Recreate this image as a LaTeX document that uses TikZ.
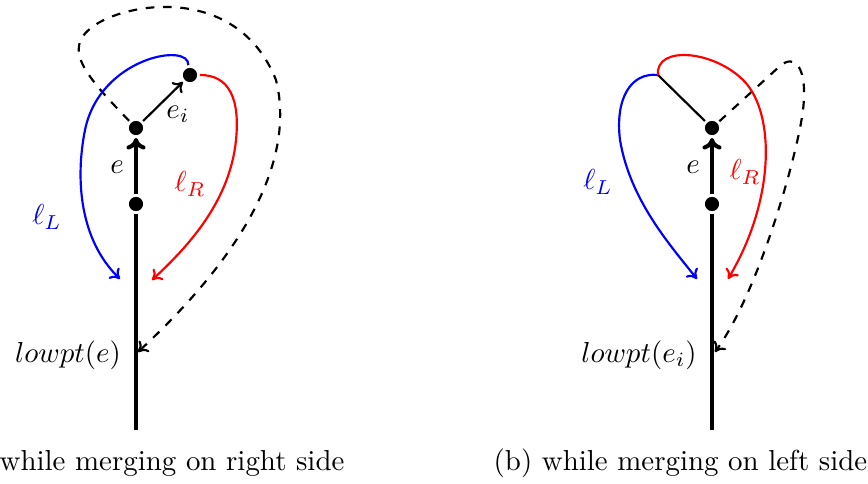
\documentclass[tikz,border=0pt]{standalone}
\usetikzlibrary{arrows.meta}
\begin{document}
\begin{tikzpicture}[x=0.346pt,y=-0.346pt,
  dot/.style={circle,fill=black,inner sep=0pt,minimum size=4.9pt,outer sep=1pt},
  trunk/.style={line width=1.4pt},
  curve/.style={line width=0.75pt},
  thinhead/.style={-{To[length=3.2pt,width=5.2pt]}},
  thickhead/.style={-{To[length=4pt,width=6.6pt]}},
  lbl/.style={inner sep=0pt}]
\useasboundingbox (0,0) rectangle (868,484);

% ---------- left figure ----------
\node[dot] (tL) at (190,75) {};
\node[dot] (mL) at (136,128) {};
\node[dot] (bL) at (136,204) {};
\coordinate (endL) at (136,430);
\coordinate (lowL) at (138,352);
\coordinate (blueL) at (120,279);
\coordinate (redL) at (152,280);

\draw[trunk] (bL) -- (endL);
\draw[trunk,thickhead] (bL) -- (mL);
\draw[curve,thinhead] (mL) -- (tL);
\draw[curve,dashed,thinhead] (mL) .. controls (80,70) and (60,45) .. (100,22)
   .. controls (140,0) and (240,-10) .. (276,80)
   .. controls (291,140) and (270,230) .. (lowL);
\draw[curve,blue,thinhead] (tL.100) .. controls (190,42) and (100,57) .. (85,130)
   .. controls (75,180) and (80,240) .. (blueL);
\draw[curve,red,thinhead] (tL.east) .. controls (230,75) and (240,100) .. (236,140)
   .. controls (230,200) and (190,245) .. (redL);

\node[lbl] (eL) at (117,167) {$e$};
\node[lbl] (eiL) at (178,114) {$e_i$};
\node[lbl,text=blue] (lLL) at (47,217) {$\ell_L$};
\node[lbl,text=red] (lRL) at (190,184) {$\ell_R$};
\node[lbl] (lowptL) at (68,355) {$lowpt(e)$};
\node[lbl,anchor=east] (capL) at (345,463) {(a) while merging on right side};

% ---------- right figure ----------
\node[dot] (mR) at (712,128) {};
\node[dot] (bR) at (712,204) {};
\coordinate (J) at (658,75);
\coordinate (endR) at (712,430);
\coordinate (lowR) at (715,352);
\coordinate (blueR) at (697,279);
\coordinate (redR) at (728,279);

\draw[trunk] (bR) -- (endR);
\draw[trunk,thickhead] (bR) -- (mR);
\draw[curve] (mR) -- (J);
\draw[curve,dashed,thinhead] (mR) -- (780,66) .. controls (795,53) and (808,68) .. (803,110)
   .. controls (798,152) and (760,290) .. (lowR);
\draw[curve,blue,thinhead] (J) .. controls (630,72) and (615,100) .. (620,140)
   .. controls (630,200) and (670,245) .. (blueR);
\draw[curve,red,thinhead] (J) .. controls (655,45) and (715,50) .. (745,82)
   .. controls (775,115) and (775,200) .. (redR);

\node[lbl] (eR) at (693,167) {$e$};
\node[lbl,text=blue] (lLR) at (598,182) {$\ell_L$};
\node[lbl,text=red] (lRR) at (745,172) {$\ell_R$};
\node[lbl] (lowptR) at (639,355) {$lowpt(e_i)$};
\node[lbl] (capR) at (680.5,463) {(b) while merging on left side};
\end{tikzpicture}
\end{document}
